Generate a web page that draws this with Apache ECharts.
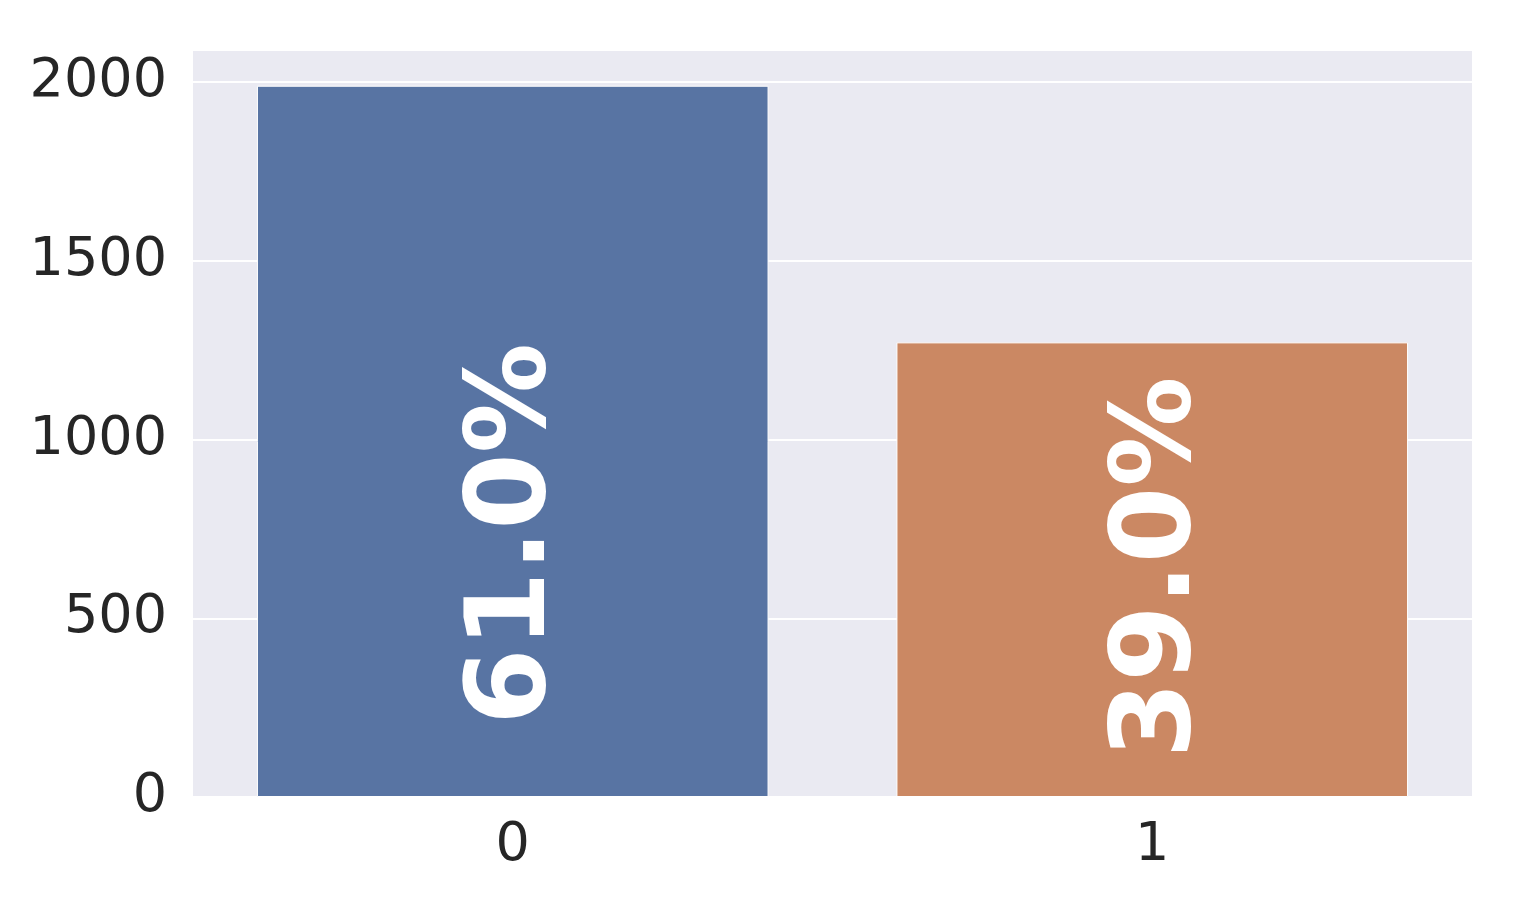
<!DOCTYPE html>
<html>
<head>
<meta charset="utf-8">
<script src="https://cdn.jsdelivr.net/npm/echarts@6/dist/echarts.min.js"></script>
<style>
html,body{margin:0;padding:0;background:#fff;}
#chart{width:1513px;height:917px;}
</style>
</head>
<body>
<div id="chart"></div>
<script>
const categories = ['0', '1'];
const counts = [1990, 1272];
const percentLabels = ['61.0%', '39.0%'];
const yTicks = [0, 500, 1000, 1500, 2000];

const barColors = ['#5874A3', '#CB8863'];
const labelPos = [['50.5%', '63%'], ['51.5%', '49.5%']];

const chart = echarts.init(document.getElementById('chart'));
const data = counts.map((v, i) => ({
  value: v,
  itemStyle: { color: barColors[i], borderColor: '#ffffff', borderWidth: 1 },
  label: { position: labelPos[i], formatter: percentLabels[i] }
}));

chart.setOption({
  animation: false,
  grid: {
    left: 193, right: 41, top: 50, bottom: 120,
    show: true, backgroundColor: '#EAEAF2', borderWidth: 0
  },
  xAxis: {
    type: 'category',
    data: categories,
    axisLine: { show: false },
    axisTick: { show: false },
    axisLabel: { color: '#262626', fontSize: 54, fontFamily: 'DejaVu Sans', margin: 22 },
    splitLine: { show: false }
  },
  yAxis: {
    type: 'value',
    min: yTicks[0],
    max: 2090,
    interval: 500,
    axisLine: { show: false },
    axisTick: { show: false },
    axisLabel: {
      color: '#262626', fontSize: 54, fontFamily: 'DejaVu Sans', margin: 26,
      showMaxLabel: false,
      formatter: (v) => String(v)
    },
    splitLine: { show: true, lineStyle: { color: '#ffffff', width: 2 } }
  },
  series: [{
    type: 'bar',
    data: data,
    barCategoryGap: '20%',
    label: {
      show: true,
      rotate: 90,
      color: '#ffffff',
      fontSize: 110,
      fontWeight: 'bold',
      fontFamily: 'DejaVu Sans',
      align: 'center',
      verticalAlign: 'middle'
    }
  }]
});
</script>
</body>
</html>
